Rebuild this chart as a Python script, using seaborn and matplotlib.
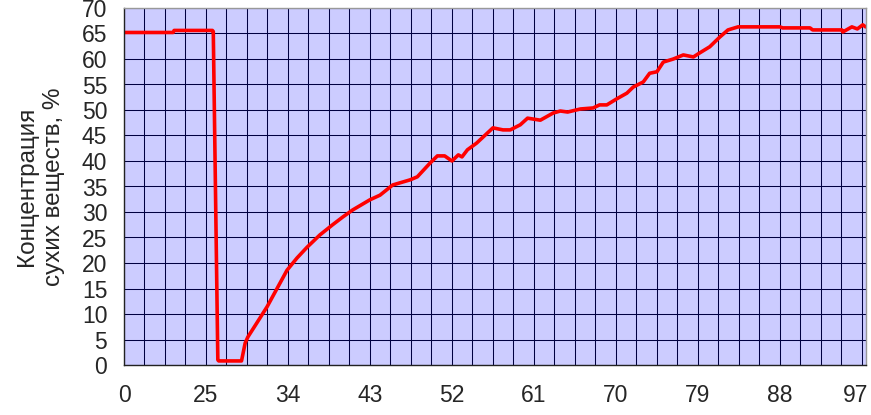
import numpy as np
import pandas as pd
import matplotlib
matplotlib.use("Agg")
import matplotlib.pyplot as plt
from matplotlib.ticker import FixedLocator, MultipleLocator
from matplotlib.transforms import ScaledTranslation
import seaborn as sns

# position along the category axis (label step = 9 units) and dry-matter concentration, %
pos = [0, 5.4, 5.5, 9.7, 9.8, 10.3, 10.4, 12.9, 13.3, 13.6, 14.6, 15.7, 16.8,
       17.9, 19.0, 20.1, 21.5, 22.9, 24.0, 25.1, 27.0, 28.1, 29.5, 31.4, 32.2,
       33.6, 34.4, 35.2, 36.0, 36.7, 37.1, 37.7, 38.7, 40.5, 41.6, 42.4, 43.5,
       44.3, 45.7, 47.1, 47.9, 48.7, 50.1, 51.5, 52.2, 53.0, 54.1, 55.2, 55.9,
       57.0, 57.7, 58.5, 59.2, 60.3, 61.4, 62.5, 63.2, 64.3, 65.4, 66.3, 67.4,
       72.0, 72.3, 75.3, 75.6, 78.8, 78.9, 79.9, 80.5, 81.1, 81.4]
conc = [65.2, 65.2, 65.6, 65.6, 65.4, 1.0, 0.8, 0.8, 4.3, 5.5, 8.3, 11.4, 15.0,
        18.6, 21.0, 23.1, 25.5, 27.5, 29.0, 30.4, 32.4, 33.3, 35.3, 36.3, 36.9,
        39.6, 41.0, 41.0, 40.0, 41.2, 40.8, 42.2, 43.5, 46.5, 46.1, 46.1, 47.1,
        48.4, 48.0, 49.4, 49.8, 49.6, 50.2, 50.4, 51.0, 51.0, 52.2, 53.3, 54.5,
        55.5, 57.2, 57.5, 59.4, 60.0, 60.8, 60.4, 61.2, 62.4, 64.3, 65.7, 66.3,
        66.3, 66.1, 66.1, 65.7, 65.7, 65.3, 66.3, 65.9, 66.7, 66.3]

x_labels = ["0", "25", "34", "43", "52", "61", "70", "79", "88", "97"]
label_step = 9

df = pd.DataFrame({"pos": pos, "conc": conc})

sns.set_style("white")
plt.rcParams["font.family"] = ["Liberation Sans", "DejaVu Sans"]

fig = plt.figure(figsize=(8.71, 4.15), dpi=100)
ax = fig.add_axes([124 / 871, 50 / 415, 742 / 871, 357 / 415])
ax.set_facecolor("#CCCCFF")

sns.lineplot(data=df, x="pos", y="conc", color="#FF0000", linewidth=2.6,
             sort=False, ax=ax)

ax.set_xlim(0, 81.45)
ax.set_ylim(0, 70)

# x: ticks every half label step, labels every step, grid every quarter step
ticks = np.arange(0, 81.45, label_step / 2)
tick_text = []
for i, t in enumerate(ticks):
    tick_text.append(x_labels[i // 2] if i % 2 == 0 else "")
ax.xaxis.set_major_locator(FixedLocator(ticks))
ax.set_xticklabels(tick_text)
ax.xaxis.set_minor_locator(MultipleLocator(label_step / 4))
ax.yaxis.set_major_locator(MultipleLocator(5))

ax.grid(True, which="both", color="#000040", linewidth=0.75)
ax.set_axisbelow(True)
ax.tick_params(axis="x", which="major", direction="out", length=4.5, width=0.8,
               color="#555555", pad=9, labelsize=16.5)
ax.tick_params(axis="x", which="minor", length=0)
ax.tick_params(axis="y", direction="out", length=7, width=0.8,
               color="#555555", pad=5, labelsize=16.5)

# last label sits a little left of its tick, as in the original
last = [lbl for lbl in ax.get_xticklabels() if lbl.get_text()][-1]
last.set_transform(last.get_transform() + ScaledTranslation(-6 / 100, 0, fig.dpi_scale_trans))

for side in ["left", "bottom"]:
    ax.spines[side].set_color("#222222")
    ax.spines[side].set_linewidth(1.0)
for side in ["top", "right"]:
    ax.spines[side].set_color("#999999")
    ax.spines[side].set_linewidth(1.0)

ax.set_xlabel("")
ax.set_ylabel("Концентрация\nсухих веществ, %", fontsize=17.5, labelpad=12,
              linespacing=1.3)

fig.savefig("out.png", dpi=100)
